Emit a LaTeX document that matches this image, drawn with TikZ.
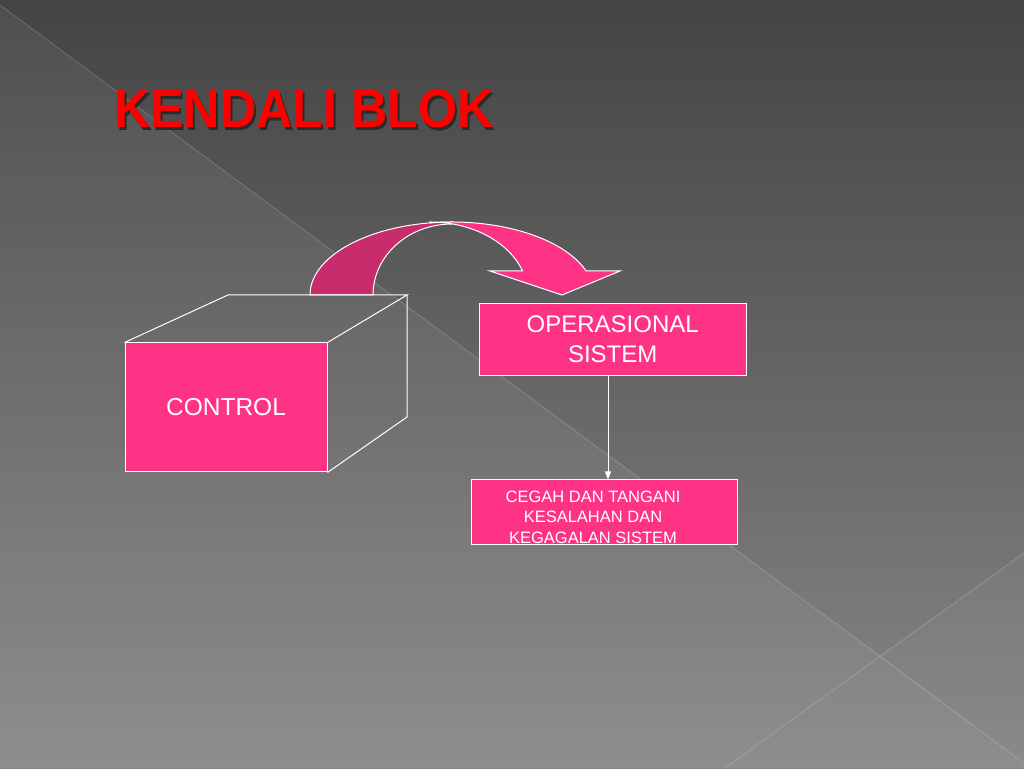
\documentclass[tikz,border=0pt]{standalone}
\usepackage{fontspec}
\setmainfont{Liberation Sans}
\usetikzlibrary{arrows.meta}
\definecolor{bgtop}{HTML}{444444}
\definecolor{bgbot}{HTML}{878787}
\definecolor{pinkbox}{HTML}{FF3385}
\definecolor{pinkdark}{HTML}{C92C6C}
\definecolor{titlered}{HTML}{FF0000}
\definecolor{shadowgray}{HTML}{2A2A2A}
\newcommand{\titletext}{\scalebox{0.93}[1]{KENDALI BLOK}}
\begin{document}
\begin{tikzpicture}[x=1pt,y=1pt,
  pinkrect/.style={draw=white, line width=1pt, fill=pinkbox, inner sep=0pt, text=white, align=center},
  boxtext/.style={text=white, align=center, inner sep=0pt},
  edgeline/.style={draw=white, line width=1pt, line join=miter},
  bendarrow/.style={draw=white, line width=1pt, line join=miter},
  bgline/.style={draw=white, draw opacity=0.18, line width=0.8pt},
  titlefont/.style={anchor=base west, inner sep=0pt, font=\fontsize{54}{60}\selectfont\bfseries}]
\useasboundingbox (0,0) rectangle (1024,768);
% background
\shade[top color=bgtop, bottom color=bgbot] (0,0) rectangle (1024,768);
\fill[white, opacity=0.06] (0,0) -- (0,763) -- (1024,5) -- (1024,0) -- cycle;
\fill[white, opacity=0.03] (878,111) -- (1024,215) -- (1024,5) -- cycle;
\coordinate (d1) at (0,763);
\coordinate (d2) at (1024,5);
\coordinate (e1) at (1024,215);
\coordinate (e2) at (725,0);
\draw[bgline] (d1) -- (d2);
\draw[bgline] (e1) -- (e2);
% title with shadow
\node[titlefont] (title) at (114,640) {\rlap{\kern2pt\raisebox{-2.5pt}{\textcolor{shadowgray}{\titletext}}}\textcolor{titlered}{\titletext}};
% curved arrow
\draw[bendarrow, fill=pinkdark] (310,473) arc[start angle=180, end angle=90, x radius=142, y radius=73]
  -- (452,544) arc[start angle=90, end angle=180, x radius=79, y radius=71] -- cycle;
\draw[bendarrow, fill=pinkbox] (430.03,545.12) arc[start angle=98.9, end angle=19.19, x radius=142, y radius=73]
  -- (620,497) -- (562,473) -- (490,497) -- (522.55,497)
  arc[start angle=19.19, end angle=90, x radius=98, y radius=73] -- cycle;
% cube
\node[pinkrect, minimum width=202pt, minimum height=129pt, font=\fontsize{24.5}{29}\selectfont] (control) at (226,360.5) {CONTROL};
\coordinate (tbl) at (228,473);
\coordinate (tbr) at (407,473);
\coordinate (bbr) at (407,351);
\draw[edgeline] (control.north west) -- (tbl) -- (tbr) -- (control.north east);
\draw[edgeline] (tbr) -- (bbr) -- (control.south east);
% boxes
\node[pinkrect, minimum width=267pt, minimum height=72.4pt, font=\fontsize{24}{30}\selectfont] (ops) at (612.7,428.5) {OPERASIONAL\\SISTEM};
\node[pinkrect, minimum width=266pt, minimum height=65pt] (cegah) at (604.7,255.5) {};
\node[boxtext, font=\fontsize{16.5}{20.5}\selectfont] (cegahtxt) at (593,251) {CEGAH DAN TANGANI\\KESALAHAN DAN\\KEGAGALAN SISTEM};
\draw[white, line width=1pt, -{Triangle[width=6pt,length=8pt]}] ([xshift=-4.7pt]ops.south) -- ([xshift=3.3pt]cegah.north);
\end{tikzpicture}
\end{document}
